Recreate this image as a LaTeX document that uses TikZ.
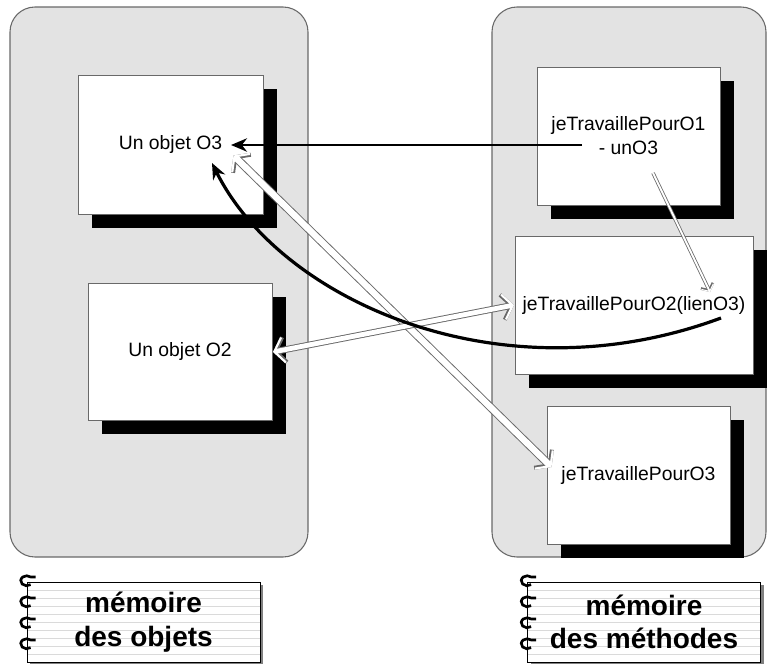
\documentclass[tikz,border=0pt]{standalone}
\usepackage{fontspec}
\setmainfont{Liberation Sans}
\usetikzlibrary{arrows.meta, shadows, calc}
\definecolor{panelgray}{RGB}{227,227,227}
\definecolor{edgegray}{RGB}{105,105,105}
\definecolor{linegray}{RGB}{218,218,218}
\tikzset{
  panel/.style={rectangle, draw=edgegray, fill=panelgray, rounded corners=18.75pt,
    line width=0.8pt, minimum height=412.5pt},
  membox/.style={rectangle, draw=edgegray, fill=white, line width=0.6pt,
    minimum width=138pt, minimum height=103.5pt, align=center, inner sep=0pt,
    font=\fontsize{14.5}{18}\selectfont,
    drop shadow={shadow xshift=10.5pt, shadow yshift=-10.5pt, fill=black, opacity=1}},
  notebook/.style={rectangle, draw=black, fill=white, line width=0.6pt,
    minimum width=174.75pt, minimum height=60pt, align=center, inner sep=0pt,
    font=\fontsize{21}{25}\selectfont\bfseries,
    drop shadow={shadow xshift=2.5pt, shadow yshift=-2.5pt, fill=gray, opacity=1},
    path picture={\foreach \k in {1,...,11}
      \draw[linegray, line width=0.4pt] ($(path picture bounding box.north west)+(0pt,-\k*6pt)$) -- ++(200pt,0pt);}},
  ring/.style={line width=2pt, black},
  blackarrow/.style={-{Stealth[length=12pt, width=10pt]}, line width=2pt, black},
  hollowout/.style={edgegray, line width=6.2pt,
    {Straight Barb[length=7pt, width=19pt, line width=3pt]}-{Straight Barb[length=7pt, width=19pt, line width=3pt]}},
  hollowin/.style={white, line width=4.8pt,
    {Straight Barb[length=7pt, width=19pt, line width=1.6pt]}-{Straight Barb[length=7pt, width=19pt, line width=1.6pt]}},
  thinout/.style={edgegray, line width=2.6pt, -{Straight Barb[length=4pt, width=10pt, line width=2pt]}},
  thinin/.style={white, line width=1.4pt, -{Straight Barb[length=4pt, width=10pt, line width=0.8pt]}}
}

\begin{document}
\begin{tikzpicture}[x=0.75pt, y=-0.75pt]
  \useasboundingbox (0,0) rectangle (769,664);

  % memory panels
  \node[panel, minimum width=223.5pt] (pobj) at (159,282) {};
  \node[panel, minimum width=205.5pt] (pmeth) at (629,282) {};

  % objects
  \node[membox, minimum width=138.75pt, minimum height=104.25pt] (o3) at (170.5,144.5) {Un objet O3};
  \node[membox, minimum height=102.75pt] (o2) at (180,351.5) {Un objet O2};

  % methods
  \node[membox, minimum width=137.25pt] (m1) at (628.5,136) {jeTravaillePourO1\\- unO3};
  \node[membox, minimum width=178.5pt] (m2) at (634,305) {jeTravaillePourO2(lienO3)};
  \node[membox, minimum width=137.25pt] (m3) at (638.5,475) {jeTravaillePourO3};

  % notebook labels
  \node[notebook] (lobj) at (143.5,622) {mémoire\\des objets};
  \node[notebook] (lmeth) at (644,622) {mémoire\\des méthodes};
  \foreach \lbl in {lobj, lmeth}
    \foreach \dy in {7,28,49,70}
      \draw[ring] ($(\lbl.north west)+(4,\dy-4)$) arc[start angle=50, end angle=310, x radius=6, y radius=5]
        -- ++(5,0);

  % anchor points of the links
  \coordinate (m1from) at ($(m1.center)+(-46.5,9)$);
  \coordinate (o3to) at ($(o3.center)+(60.5,0.5)$);
  \coordinate (m2from) at ($(m2.center)+(87,13)$);
  \coordinate (o3low) at ($(o3.center)+(41.5,18.5)$);
  \coordinate (o3end) at ($(o3.center)+(63,11)$);
  \coordinate (m3end) at ($(m3.center)+(-87,-8)$);
  \coordinate (o2end) at ($(o2.center)+(93,0.5)$);
  \coordinate (m2end) at ($(m2.center)+(-120,0)$);
  \coordinate (m1low) at ($(m1.center)+(24.5,37)$);
  \coordinate (m2top) at ($(m2.center)+(76,-13)$);

  % links (outline first, white core on top)
  \draw[hollowout] (o3end) -- (m3end);
  \draw[hollowin] (o3end) -- (m3end);
  \draw[hollowout, line width=5pt] (o2end) -- (m2end);
  \draw[hollowin, line width=3.6pt] (o2end) -- (m2end);
  \draw[thinout] (m1low) -- (m2top);
  \draw[thinin] (m1low) -- (m2top);
  \draw[blackarrow] (m1from) -- (o3to);
  \draw[blackarrow, line width=2.4pt] (m2from) .. controls +(-221,82) and +(68,137) .. (o3low);
\end{tikzpicture}
\end{document}
